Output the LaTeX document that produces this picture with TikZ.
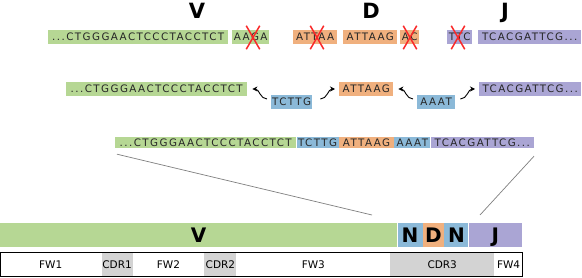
\documentclass[tikz,border=0pt]{standalone}
\usepackage{fontspec}
\setmainfont{DejaVu Sans}
\newfontfamily\seqfont[LetterSpace=14]{DejaVu Sans}
\usepackage{tikz}
\usetikzlibrary{positioning, shapes.misc, arrows.meta}

\definecolor{vgreen}{RGB}{182,215,148}
\definecolor{dorange}{RGB}{240,176,126}
\definecolor{nblue}{RGB}{139,185,216}
\definecolor{jpurple}{RGB}{170,165,212}
\definecolor{cdrgray}{RGB}{211,211,211}
\definecolor{cutred}{RGB}{250,40,40}

\tikzset{
  seq/.style={inner sep=0pt, minimum height=14pt, text height=7.5pt, text depth=0pt,
    font=\seqfont\fontsize{10.3}{11}\selectfont, text=black!85},
  gene/.style={inner sep=0pt, text height=15.3pt, text depth=0pt,
    font=\bfseries\fontsize{21}{21}\selectfont},
  cut/.style={cross out, draw=cutred, line width=1.5pt, minimum width=12pt,
    minimum height=22pt, inner sep=0pt},
  joinarr/.style={-{Stealth[length=5pt,width=5pt]}, line width=0.9pt},
  zoomline/.style={draw=black!50, line width=0.7pt},
  segment/.style={inner sep=0pt, minimum height=24pt, text height=14.6pt, text depth=0pt,
    font=\bfseries\fontsize{20}{20}\selectfont},
  region/.style={inner sep=0pt, minimum height=25pt, font=\fontsize{10.5}{11}\selectfont}
}

\begin{document}
\begin{tikzpicture}[x=1pt, y=-1pt]
\useasboundingbox[fill=white] (0,0) rectangle (582,278);

% gene segments before joining
\node[gene] (vlab) at (197,10.5) {V};
\node[gene] (dlab) at (371,10.5) {D};
\node[gene] (jlab) at (505,10.5) {J};

\node[seq, fill=vgreen, minimum width=180pt, anchor=west] (v1) at (48,37) {...CTGGGAACTCCCTACCTCT};
\node[seq, fill=vgreen, minimum width=37pt, anchor=west] (v2) at (232,37) {AAGA};
\node[seq, fill=dorange, minimum width=44pt, anchor=west] (d1) at (293,37) {ATTAA};
\node[seq, fill=dorange, minimum width=54pt, anchor=west] (d2) at (343,37) {ATTAAG};
\node[seq, fill=dorange, minimum width=19pt, anchor=west] (d3) at (400,37) {AC};
\node[seq, fill=jpurple, minimum width=25pt, anchor=west] (j1) at (447,37) {TTC};
\node[seq, fill=jpurple, minimum width=103pt, anchor=west] (j2) at (478,37) {TCACGATTCG...};

% deleted nucleotides
\node[cut] (cut1) at (253,37.5) {};
\node[cut] (cut2) at (317,37.5) {};
\node[cut] (cut3) at (410,37.5) {};
\node[cut] (cut4) at (458,37.5) {};

% added N nucleotides
\node[seq, fill=vgreen, minimum width=181pt, anchor=west] (v3) at (66,89) {...CTGGGAACTCCCTACCTCT};
\node[seq, fill=nblue, minimum width=41pt, anchor=west] (n1) at (271,102) {TCTTG};
\node[seq, fill=dorange, minimum width=54pt, anchor=west] (d4) at (339,89) {ATTAAG};
\node[seq, fill=nblue, minimum width=38pt, anchor=west] (n2) at (417,102) {AAAT};
\node[seq, fill=jpurple, minimum width=102pt, anchor=west] (j3) at (479,89) {TCACGATTCG...};

\draw[joinarr] ([shift={(-4pt,3pt)}]n1.west) to[out=180, in=0] ([xshift=5pt]v3.east);
\draw[joinarr] ([shift={(8pt,3pt)}]n1.east) to[out=0, in=180] ([xshift=-4pt]d4.west);
\draw[joinarr] ([shift={(-4pt,3pt)}]n2.west) to[out=180, in=0] ([xshift=5pt]d4.east);
\draw[joinarr] ([shift={(5pt,3pt)}]n2.east) to[out=0, in=180] ([xshift=-4pt]j3.west);

% joined sequence
\node[seq, minimum height=11pt, fill=vgreen, minimum width=181pt, anchor=west] (sv) at (115,142.5) {...CTGGGAACTCCCTACCTCT};
\node[seq, minimum height=11pt, fill=nblue, minimum width=42pt, right=0pt of sv] (sn1) {TCTTG};
\node[seq, minimum height=11pt, fill=dorange, minimum width=55pt, right=0pt of sn1] (sd) {ATTAAG};
\node[seq, minimum height=11pt, fill=nblue, minimum width=36pt, right=0pt of sd] (sn2) {AAAT};
\node[seq, minimum height=11pt, fill=jpurple, minimum width=103pt, right=0pt of sn2] (sj) {TCACGATTCG...};

\coordinate (zl) at (372,215);
\coordinate (zr) at (480,215);
\draw[zoomline] ([shift={(2pt,-6pt)}]sv.south west) -- (zl);
\draw[zoomline] ([yshift=-8pt]sj.south east) -- (zr);

% whole chain
\node[segment, fill=vgreen, minimum width=397pt, anchor=west] (bv) at (0,235) {V};
\node[segment, fill=nblue, minimum width=25pt, right=0pt of bv] (bn1) {N};
\node[segment, fill=dorange, minimum width=21pt, right=0pt of bn1] (bd) {D};
\node[segment, fill=nblue, minimum width=24pt, right=0pt of bd] (bn2) {N};
\node[segment, fill=jpurple, minimum width=53pt, right=0pt of bn2] (bj) {J};

% framework and CDR regions
\node[region, minimum width=101pt, anchor=west] (fw1) at (0,264.5) {FW1};
\node[region, fill=cdrgray, minimum width=31pt, right=0pt of fw1] (cdr1) {CDR1};
\node[region, minimum width=71pt, right=0pt of cdr1] (fw2) {FW2};
\node[region, fill=cdrgray, minimum width=32pt, right=0pt of fw2] (cdr2) {CDR2};
\node[region, minimum width=153pt, right=0pt of cdr2] (fw3) {FW3};
\node[region, fill=cdrgray, minimum width=104pt, right=0pt of fw3] (cdr3) {CDR3};
\node[region, minimum width=28pt, right=0pt of cdr3] (fw4) {FW4};
\draw[line width=0.8pt] ([shift={(0.4pt,-0.4pt)}]fw1.north west) rectangle ([shift={(-0.4pt,0.4pt)}]fw4.south east);
\end{tikzpicture}
\end{document}
